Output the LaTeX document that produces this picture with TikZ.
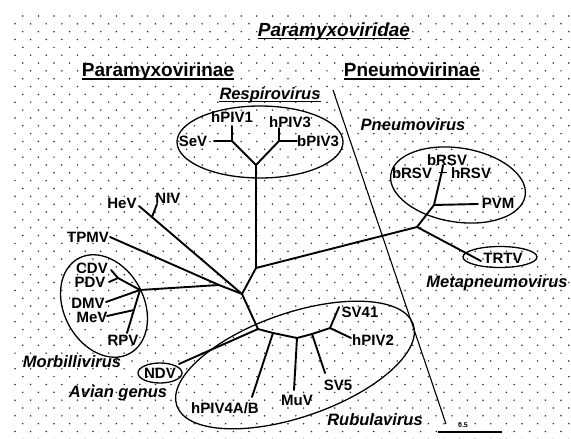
\documentclass[tikz,border=0pt]{standalone}
\usepackage{fontspec}
\setmainfont{Liberation Sans}
\begin{document}
\begin{tikzpicture}[x=1pt,y=-1pt,
  br/.style={line width=1.9pt, line cap=round, line join=round},
  grp/.style={line width=1.3pt},
  lab/.style={font=\bfseries\fontsize{15}{15}\selectfont, inner sep=0pt},
  itl/.style={font=\bfseries\itshape\fontsize{16.5}{16.5}\selectfont, inner sep=0pt},
  head/.style={font=\bfseries\fontsize{19}{19}\selectfont, inner sep=0pt, anchor=base},
  uline/.style={line width=1.2pt}]
\useasboundingbox (0,0) rectangle (571,439);
\begin{scope}
\clip (0,0) rectangle (571,439);
\foreach \k in {0,...,54} {
  \pgfmathsetmacro\off{mod(\k,2)==0 ? 7.8 : 0}
  \foreach \c in {0,...,36} {
    \fill[black!85] ({15+\off+\c*15.6},{16+\k*7.84}) circle[radius=0.85pt];
  }
}
\end{scope}

% headings
\node[head, font=\bfseries\itshape\fontsize{19}{19}\selectfont] (fam) at (334,36) {Paramyxoviridae};
\draw[uline] ([yshift=-2.5pt]fam.base west) -- ([yshift=-2.5pt]fam.base east);
\node[head] (sub1) at (158,76) {Paramyxovirinae};
\draw[uline] ([yshift=-3pt]sub1.base west) -- ([yshift=-3pt]sub1.base east);
\node[head] (sub2) at (412,76) {Pneumovirinae};
\draw[uline] ([yshift=-3pt]sub2.base west) -- ([yshift=-3pt]sub2.base east);

% divider
\coordinate (dv1) at (333,90);
\coordinate (dv2) at (446,424);
\draw[line width=1.1pt] (dv1) -- (dv2);

% group ellipses
\draw[grp] (260,142) ellipse [x radius=83pt, y radius=36pt];
\draw[grp, shift={(458,185)}, rotate=-9] (0,0) ellipse [x radius=68pt, y radius=37pt];
\draw[grp, shift={(104,306)}, rotate=-62] (0,0) ellipse [x radius=54pt, y radius=40pt];
\draw[grp] (160,373) ellipse [x radius=22pt, y radius=10pt];
\draw[grp] (500,257) ellipse [x radius=37pt, y radius=10.5pt];
\draw[grp, shift={(295,365)}, rotate=19] (0,0) ellipse [x radius=125pt, y radius=52pt];

% tree coordinates
\coordinate (r0) at (256,165);
\coordinate (rL) at (232,141);
\coordinate (rR) at (279,141);
\coordinate (eSeV) at (214,141);
\coordinate (ehPIV1) at (232,126);
\coordinate (ehPIV3) at (279,128);
\coordinate (ebPIV3) at (297,141);
\coordinate (c1) at (256,268);
\coordinate (pn) at (417,227);
\coordinate (p1) at (434,205);
\coordinate (p2) at (442,171);
\coordinate (ebRSV) at (443,165);
\coordinate (tk1) at (439,172);
\coordinate (tk2) at (447,172);
\coordinate (ePVM) at (478,204);
\coordinate (eTRTV) at (481,261);
\coordinate (c0) at (242,294);
\coordinate (nb) at (152,217);
\coordinate (eHeV) at (139,206);
\coordinate (eNIV) at (157,204);
\coordinate (t1) at (219,285);
\coordinate (eTPMV) at (110,237);
\coordinate (m0) at (140,290);
\coordinate (mc) at (118,278);
\coordinate (eCDV) at (111,270);
\coordinate (ePDV) at (109,282);
\coordinate (eDMV) at (106,302);
\coordinate (mb) at (134,310);
\coordinate (eRPV) at (127,333);
\coordinate (eMeV) at (107,316);
\coordinate (rb) at (258,329);
\coordinate (eNDV) at (179,364);
\coordinate (h4) at (273,333);
\coordinate (ehPIV4) at (252,397);
\coordinate (mu) at (297,338);
\coordinate (eMuV) at (294,390);
\coordinate (s5) at (312,334);
\coordinate (eSV5) at (325,373);
\coordinate (s4) at (330,328);
\coordinate (eSV41) at (339,307);
\coordinate (ehPIV2) at (351,338);

% branches
\draw[br] (eSeV) -- (rL) -- (r0) -- (rR) -- (ebPIV3);
\draw[br] (rL) -- (ehPIV1);
\draw[br] (rR) -- (ehPIV3);
\draw[br] (r0) -- (c1) -- (pn);
\draw[br] (pn) -- (p1) -- (p2) -- (ebRSV);
\draw[line width=1pt] (tk1) -- (tk2);
\draw[br] (p1) -- (ePVM);
\draw[br] (pn) -- (eTRTV);
\draw[br] (c1) -- (c0) -- (eHeV);
\draw[br] (nb) -- (eNIV);
\draw[br] (c0) -- (t1) -- (eTPMV);
\draw[br] (t1) -- (m0);
\draw[br] (m0) -- (mc) -- (eCDV);
\draw[br] (mc) -- (ePDV);
\draw[br] (m0) -- (eDMV);
\draw[br] (m0) -- (eRPV);
\draw[br] (mb) -- (eMeV);
\draw[br] (c0) -- (rb) -- (eNDV);
\draw[br] (rb) -- (h4) -- (mu) -- (s5) -- (s4) -- (eSV41);
\draw[br] (h4) -- (ehPIV4);
\draw[br] (mu) -- (eMuV);
\draw[br] (s5) -- (eSV5);
\draw[br] (s4) -- (ehPIV2);

% leaf labels
\node[lab] (SeV) at (193,141) {SeV};
\node[lab] (hPIV1) at (232,117) {hPIV1};
\node[lab] (hPIV3) at (290,122) {hPIV3};
\node[lab] (bPIV3) at (318,141) {bPIV3};
\node[lab] (HeV) at (122,203) {HeV};
\node[lab] (NIV) at (168,198) {NIV};
\node[lab] (TPMV) at (88,237) {TPMV};
\node[lab] (CDV) at (92,268.5) {CDV};
\node[lab] (PDV) at (90,282.5) {PDV};
\node[lab] (DMV) at (88,303.5) {DMV};
\node[lab] (MeV) at (92,317.5) {MeV};
\node[lab] (RPV) at (123,340) {RPV};
\node[lab] (NDV) at (160,373) {NDV};
\node[lab] (hPIV4) at (225,408) {hPIV4A/B};
\node[lab] (MuV) at (297,400) {MuV};
\node[lab] (SV5) at (338,385) {SV5};
\node[lab] (SV41) at (360,312) {SV41};
\node[lab] (hPIV2) at (373,340) {hPIV2};
\node[lab] (bRSV1) at (447,160) {bRSV};
\node[lab] (bRSV2) at (412,173) {bRSV};
\node[lab] (hRSV) at (471,173) {hRSV};
\node[lab] (PVM) at (498,203) {PVM};
\node[lab] (TRTV) at (503,258) {TRTV};

% genus labels
\node[itl] (Resp) at (270,95) {Respirovirus};
\draw[line width=0.8pt] ([yshift=-2pt]Resp.base west) -- ([yshift=-2pt]Resp.base east);
\node[itl] (Pneu) at (413,125) {Pneumovirus};
\node[itl] (Meta) at (497,283) {Metapneumovirus};
\node[itl] (Morb) at (72,362) {Morbillivirus};
\node[itl] (Avian) at (118,393) {Avian genus};
\node[itl] (Rubu) at (375,420) {Rubulavirus};

% scale bar
\coordinate (sb1) at (438,432);
\coordinate (sb2) at (502,432);
\draw[line width=1.8pt] (sb1) -- (sb2);
\node[font=\bfseries\fontsize{7}{7}\selectfont, inner sep=0pt] (sbl) at (463,425) {0.5};
\end{tikzpicture}
\end{document}
